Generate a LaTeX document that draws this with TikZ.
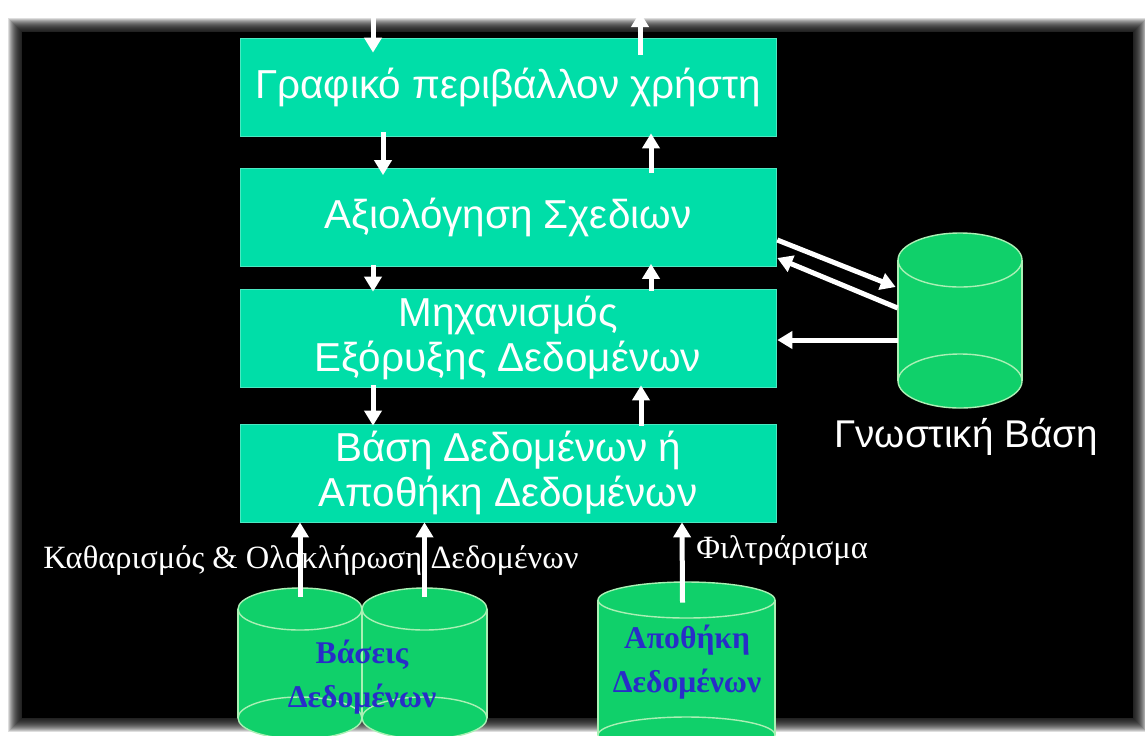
\documentclass[tikz,border=0pt]{standalone}
\usepackage{fontspec}
\setmainfont{Liberation Serif}
\newfontfamily\boxfont{Liberation Sans}
\usetikzlibrary{arrows.meta,calc,fit}

\definecolor{boxgreen}{RGB}{0,222,168}
\definecolor{cylgreen}{RGB}{16,208,106}
\definecolor{cylline}{RGB}{170,240,180}
\definecolor{labelblue}{RGB}{40,45,200}

% #1 name, #2 centre x, #3 x radius, #4 top y, #5 bottom y, #6 y radius
\newcommand{\drawcyl}[6]{
	\fill[cylgreen] (#2-#3,#4) rectangle (#2+#3,#5);
	\fill[cylgreen] (#2,#5) ellipse [x radius=#3, y radius=#6];
	\draw[cylline,line width=0.8pt] (#2,#5) ellipse [x radius=#3, y radius=#6];
	\draw[cylline,line width=0.8pt] (#2-#3,#4) -- (#2-#3,#5) (#2+#3,#4) -- (#2+#3,#5);
	\filldraw[fill=cylgreen,draw=cylline,line width=0.8pt] (#2,#4) ellipse [x radius=#3, y radius=#6];
	\node[fit={(#2-#3,#4) (#2+#3,#5)},inner sep=0] (#1) {};
}

\begin{document}
\begin{tikzpicture}[x=0.02cm,y=-0.02cm,
	box/.style={fill=boxgreen,draw=boxgreen!70!white,minimum width=10.72cm,minimum height=1.96cm,
		inner sep=0,text=white,align=center,font=\boxfont\fontsize{23}{26}\selectfont},
	cyltext/.style={text=labelblue,align=center,font=\bfseries\fontsize{18}{25}\selectfont},
	note/.style={text=white,inner sep=0,font=\fontsize{18.5}{21}\selectfont},
	arr/.style={white,line width=0.1cm,-{Triangle[width=0.34cm,length=0.3cm]}}]
	\useasboundingbox (0,0) rectangle (1145,735);
	\fill[white] (0,0) rectangle (1145,735);
	\foreach \d in {1,...,14}
		\fill[black,opacity=0.13] (22-\d,32-\d) rectangle (1133+\d,718+\d);
	\fill[black] (22,32) rectangle (1133,718);

	\node[box] (gui) at (508,87) {Γραφικό περιβάλλον χρήστη};
	\node[box] (eval) at (508,217.5) {Αξιολόγηση Σχεδιων};
	\node[box] (mine) at (508,338) {Μηχανισμός\\Εξόρυξης Δεδομένων};
	\node[box] (dwh) at (508,473) {Βάση Δεδομένων ή\\Αποθήκη Δεδομένων};

	\drawcyl{kb}{960}{62}{260}{381}{27}
	\node[text=white,anchor=base,inner sep=0,font=\boxfont\fontsize{22}{26}\selectfont] (kblabel) at (966,447) {Γνωστική Βάση};

	\drawcyl{db1}{300}{62}{609}{718}{21}
	\drawcyl{db2}{424.5}{62.5}{609}{718}{21}
	\node[cyltext] (dblabel) at (362,677) {Βάσεις\\Δεδομένων};

	\drawcyl{store}{686.5}{88.5}{600}{735}{18}
	\node[cyltext] (storelabel) at (687,662) {Αποθήκη\\Δεδομένων};

	\node[note,anchor=base] (clean) at (311,568) {Καθαρισμός \& Ολοκλήρωση Δεδομένων};
	\node[note,anchor=base west] (filter) at (696,558) {Φιλτράρισμα};

	\coordinate (topin) at (373,0);
	\coordinate (topout) at (640,12);
	\draw[arr] (topin) -- ($(gui.north)+(-135,15)$);
	\draw[arr] ($(gui.north)+(132,17)$) -- (topout);
	\draw[arr] ($(gui.south)+(-125,-4)$) -- ($(eval.north)+(-125,7)$);
	\draw[arr] ($(eval.north)+(143,5)$) -- ($(gui.south)+(143,-3)$);
	\draw[arr] ($(eval.south)+(-135,-2)$) -- ($(mine.north)+(-135,3)$);
	\draw[arr] ($(mine.north)+(143,2)$) -- ($(eval.south)+(143,-3)$);
	\draw[arr] ($(mine.south)+(-135,-2)$) -- ($(dwh.north)+(-135,2)$);
	\draw[arr] ($(dwh.north)+(133,2)$) -- ($(mine.south)+(133,-2)$);

	\draw[arr] ($(db1.north)+(0,-12)$) -- (db1.north |- dwh.south);
	\draw[arr] ($(db2.north)+(0,-12)$) -- (db2.north |- dwh.south);
	\draw[arr] ($(store.north)+(-4,3)$) -- ($(dwh.south)+(174,0)$);

	\draw[arr] ($(eval.east)+(1,22.5)$) -- ($(kb.west)+(-2,-33.5)$);
	\draw[arr] ($(kb.west)+(0,-12.5)$) -- ($(eval.east)+(1,40.5)$);
	\draw[arr] ($(kb.west)+(0,19.5)$) -- ($(mine.east)+(1,2)$);
\end{tikzpicture}
\end{document}
